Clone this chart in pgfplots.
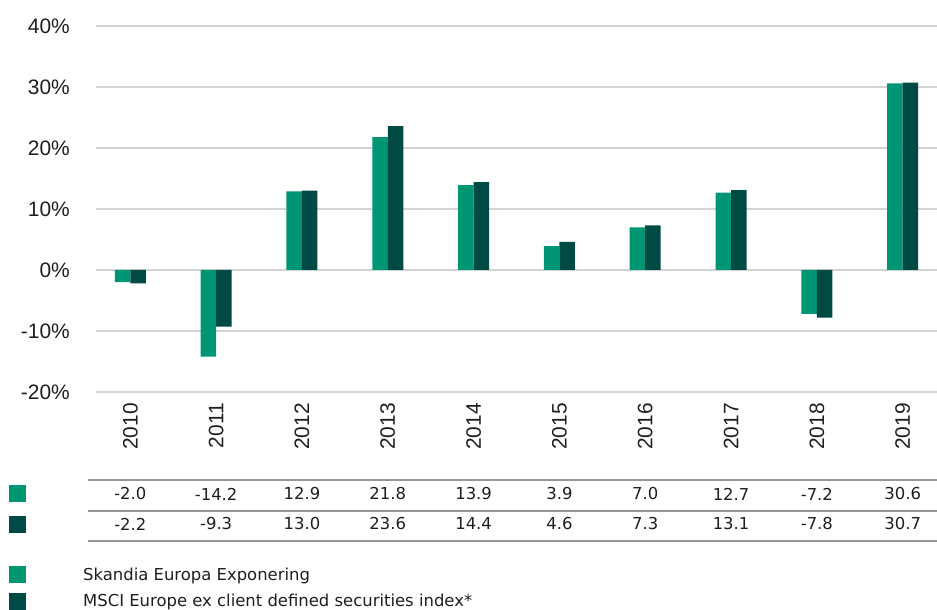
\documentclass[border=0pt]{standalone}
\usepackage{pgfplots}
\pgfplotsset{compat=1.18}
\usepackage{fontspec}
\setmainfont{Liberation Sans}
\newfontfamily\tabfont{DejaVu Sans}
\definecolor{cA}{RGB}{0,150,116}
\definecolor{cB}{RGB}{0,74,70}
\definecolor{gridc}{RGB}{211,211,211}
\definecolor{rulec}{RGB}{150,150,150}
\definecolor{txt}{RGB}{30,30,30}
\begin{document}
\begin{tikzpicture}[x=1bp,y=1bp]
\useasboundingbox (0,0) rectangle (937,610);
\begin{axis}[
  at={(96bp,218bp)}, anchor=south west,
  scale only axis, width=841bp, height=366bp,
  xmin=-0.4, xmax=9.4, ymin=-20, ymax=40,
  ytick={-20,-10,0,10,20,30,40},
  /pgf/number format/assume math mode=true,
  yticklabel={\pgfmathprintnumber{\tick}\%},
  xtick={0,1,2,3,4,5,6,7,8,9},
  xticklabels={2010,2011,2012,2013,2014,2015,2016,2017,2018,2019},
  ymajorgrids, grid style={gridc, line width=2bp},
  axis line style={draw=none}, major tick length=0pt,
  ybar=0pt, bar width=15.5bp,
  tick label style={font=\fontsize{21}{24}\selectfont, text=txt},
  yticklabel style={anchor=east, inner sep=0pt},
  yticklabel shift=26bp,
  xticklabel style={rotate=90, anchor=east, inner sep=0pt},
  xticklabel shift=11bp,
]
\addplot[fill=cA, draw=none] coordinates {(0,-2.0) (1,-14.2) (2,12.9) (3,21.8) (4,13.9) (5,3.9) (6,7.0) (7,12.7) (8,-7.2) (9,30.6)};
\addplot[fill=cB, draw=none] coordinates {(0,-2.2) (1,-9.3) (2,13.0) (3,23.6) (4,14.4) (5,4.6) (6,7.3) (7,13.1) (8,-7.8) (9,30.7)};
\end{axis}
% table
\draw[rulec, line width=1.5bp] (88,130) -- (937,130);
\draw[rulec, line width=1.5bp] (88,99) -- (937,99);
\draw[rulec, line width=1.5bp] (88,69) -- (937,69);
\foreach \v [count=\i from 0] in {-2.0,-14.2,12.9,21.8,13.9,3.9,7.0,12.7,-7.2,30.6}{
  \pgfmathsetmacro{\xx}{96+85.82*(\i+0.4)}
  \node[font=\tabfont\fontsize{16.5}{18}\selectfont, text=txt, inner sep=0pt] at (\xx,116) {\v};
}
\foreach \v [count=\i from 0] in {-2.2,-9.3,13.0,23.6,14.4,4.6,7.3,13.1,-7.8,30.7}{
  \pgfmathsetmacro{\xx}{96+85.82*(\i+0.4)}
  \node[font=\tabfont\fontsize{16.5}{18}\selectfont, text=txt, inner sep=0pt] at (\xx,86) {\v};
}
\fill[cA] (9,108) rectangle (26,125);
\fill[cB] (9,77) rectangle (26,94);
% legend
\fill[cA] (9,27) rectangle (26,44);
\fill[cB] (9,0) rectangle (26,17);
\node[font=\tabfont\fontsize{16.5}{18}\selectfont, text=txt, anchor=base west, inner sep=0pt] at (83,29) {Skandia Europa Exponering};
\node[font=\tabfont\fontsize{16.5}{18}\selectfont, text=txt, anchor=base west, inner sep=0pt] at (83,3) {MSCI Europe ex client defined securities index*};
\end{tikzpicture}
\end{document}
